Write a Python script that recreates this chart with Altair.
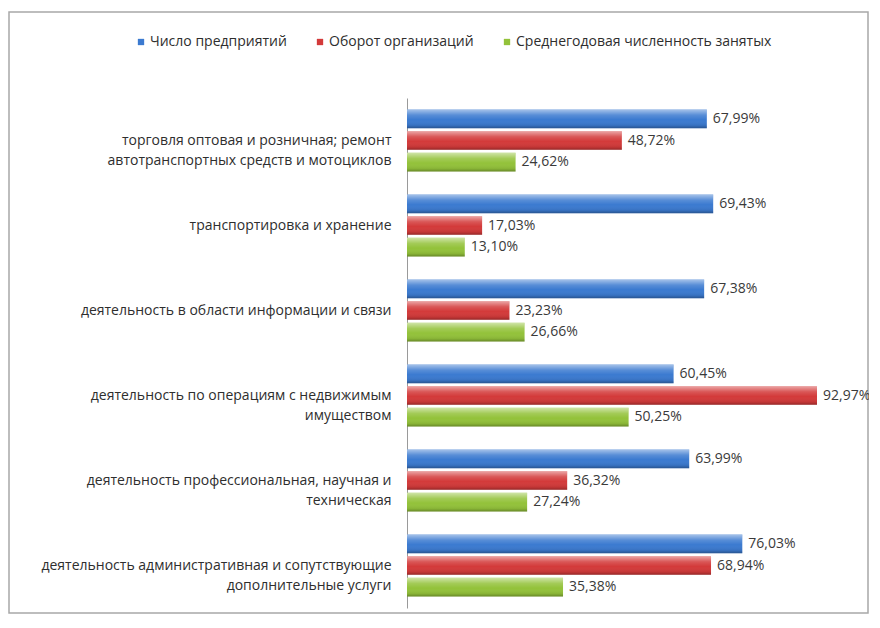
import altair as alt
import pandas as pd

categories = [
    "торговля оптовая и розничная; ремонт\nавтотранспортных средств и мотоциклов",
    "транспортировка и хранение",
    "деятельность в области информации и связи",
    "деятельность по операциям с недвижимым\nимуществом",
    "деятельность профессиональная, научная и\nтехническая",
    "деятельность административная и сопутствующие\nдополнительные услуги",
]
series = ["Число предприятий", "Оборот организаций", "Среднегодовая численность занятых"]
enterprises = [67.99, 69.43, 67.38, 60.45, 63.99, 76.03]
turnover = [48.72, 17.03, 23.23, 92.97, 36.32, 68.94]
employment = [24.62, 13.10, 26.66, 50.25, 27.24, 35.38]
colors = ["#3b7ad0", "#d33a3a", "#93c23a"]

rows = []
for name, vals in zip(series, [enterprises, turnover, employment]):
    for c, v in zip(categories, vals):
        rows.append({"cat": c, "series": name, "value": v})
df = pd.DataFrame(rows)

FONT = "Open Sans"
TXT = "#2e2e2e"

base = alt.Chart(df).transform_calculate(
    label="replace(format(datum.value, '.2f'), '.', ',') + '%'"
).encode(
    y=alt.Y(
        "cat:N",
        sort=categories,
        scale=alt.Scale(paddingInner=0.27, paddingOuter=0.135),
        axis=alt.Axis(
            title=None,
            ticks=False,
            domainColor="#9a9a9a",
            labelExpr="split(datum.label, '\\n')",
            labelFont=FONT,
            labelFontSize=14,
            labelColor=TXT,
            labelPadding=16,
            labelAlign="right",
            labelLineHeight=20,
            labelLimit=600,
        ),
    ),
    yOffset=alt.YOffset("series:N", sort=series, scale=alt.Scale(paddingInner=0.14)),
    x=alt.X("value:Q", scale=alt.Scale(domain=[0, 100]), axis=None),
)

bars = base.mark_bar().encode(
    color=alt.Color(
        "series:N",
        sort=series,
        scale=alt.Scale(domain=series, range=colors),
        legend=alt.Legend(
            title=None,
            orient="none",
            legendX=-273,
            legendY=-63,
            direction="horizontal",
            symbolType="square",
            symbolSize=40,
            symbolStrokeWidth=0,
            labelFont=FONT,
            labelFontSize=14,
            labelColor=TXT,
            columnPadding=26,
            labelOffset=2,
            labelLimit=400,
        ),
    )
)

shade = base.mark_bar(
    fill=alt.LinearGradient(
        gradient="linear",
        x1=0, x2=0, y1=0, y2=1,
        stops=[
            alt.GradientStop(offset=0, color="rgba(255,255,255,0.55)"),
            alt.GradientStop(offset=0.3, color="rgba(255,255,255,0.15)"),
            alt.GradientStop(offset=0.55, color="rgba(255,255,255,0)"),
            alt.GradientStop(offset=0.85, color="rgba(0,0,0,0.08)"),
            alt.GradientStop(offset=1, color="rgba(0,0,0,0.3)"),
        ],
    )
)

text = base.mark_text(
    align="left", baseline="middle", dx=6, font=FONT, fontSize=14, color="#3a3a3a"
).encode(text="label:N")

border = alt.Chart(pd.DataFrame({"a": [0]})).mark_rect(
    fillOpacity=0, stroke="#a8a8a8", strokeWidth=1.5
).encode(
    x=alt.value(-398), x2=alt.value(461), y=alt.value(-86), y2=alt.value(515)
)

chart = alt.layer(border, bars, shade, text).properties(
    width=441,
    height=510,
    autosize=alt.AutoSizeParams(type="none"),
    padding={"left": 399, "top": 90, "right": 21, "bottom": 6},
    background="white",
).configure_view(stroke=None)

chart.save("out.html", embed_options={"renderer": "svg", "actions": False})
